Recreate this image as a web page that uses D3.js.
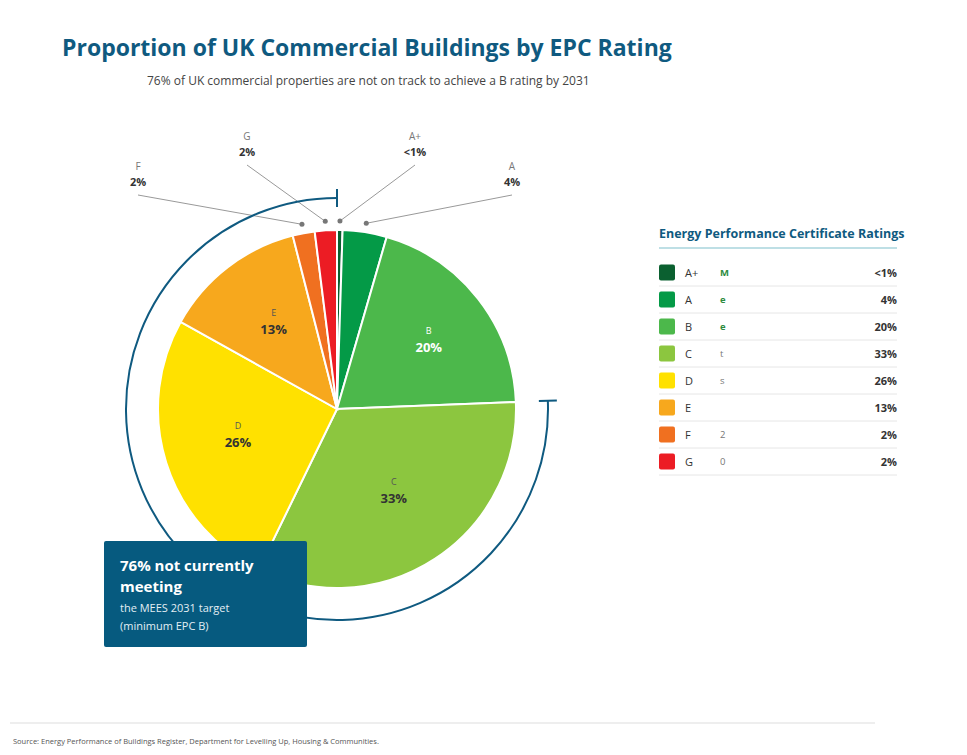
<!DOCTYPE html>
<html><head><meta charset="utf-8">
<script src="https://cdn.jsdelivr.net/npm/d3@7"></script>
<style>body{margin:0;background:#fff;font-family:"Open Sans",sans-serif}</style>
</head><body><svg id="c" width="967" height="755"></svg>
<script>
var ratings = ["A+","A","B","C","D","E","F","G"];
var values = [0.5, 4, 20, 33, 26, 13, 2, 2];
var labels = ["<1%","4%","20%","33%","26%","13%","2%","2%"];
var colors = ["#0b6030","#049a47","#4cb84b","#8cc63f","#ffe100","#f7a81d","#f07020","#ec1c24"];
var status = ["Meets 2031 target","Meets 2031 target","Meets 2031 target","Below MEES target","Below MEES target","Below MEES target","Below MEES target","Below MEES target"];

var svg = d3.select("#c");
var navy = "#0f5a80";
svg.append("text").attr("x",62).attr("y",56).attr("font-size",23).attr("font-weight",700).attr("fill",navy)
  .text("Proportion of UK Commercial Buildings by EPC Rating");
svg.append("text").attr("x",147).attr("y",85).attr("font-size",12).attr("fill","#444")
  .text("76% of UK commercial properties are not on track to achieve a B rating by 2031");

var cx = 337, cy = 409, R = 179;
var g = svg.append("g").attr("transform","translate("+cx+","+cy+")");
var pie = d3.pie().sort(null).value(function(d){return d;});
var arcs = pie(values);
var arc = d3.arc().innerRadius(0).outerRadius(R);
g.selectAll("path.s").data(arcs).enter().append("path").attr("class","s")
  .attr("d",arc).attr("fill",function(d,i){return colors[i];})
  .attr("stroke","#fff").attr("stroke-width",2);

// inside labels for big slices
var inner = d3.arc().innerRadius(R*0.58).outerRadius(R*0.58);
arcs.forEach(function(d,i){
  if (values[i] < 10) return;
  var p = inner.centroid(d);
  if (i==2) p=[p[0]+10,p[1]];
  var col = "#333";
  g.append("text").attr("x",p[0]).attr("y",p[1]-11).attr("text-anchor","middle").attr("font-size",9)
    .attr("fill",i==2?"#fff":"#555").text(ratings[i]);
  g.append("text").attr("x",p[0]).attr("y",p[1]+7).attr("text-anchor","middle").attr("font-size",13).attr("font-weight",700)
    .attr("fill",i==2?"#fff":col).text(labels[i]);
});

// callouts
var callPos = {0:[415,157],1:[512,187],6:[138,187],7:[247,157]};
var dotArc = d3.arc().innerRadius(R+9).outerRadius(R+9);
[6,7,0,1].forEach(function(i){
  var p = dotArc.centroid(arcs[i]);
  var lp = callPos[i];
  var ex = lp[0]-cx, ey = lp[1]+8-cy;
  g.append("line").attr("x1",p[0]).attr("y1",p[1]).attr("x2",ex).attr("y2",ey).attr("stroke","#999").attr("stroke-width",1);
  g.append("circle").attr("cx",p[0]).attr("cy",p[1]).attr("r",2.5).attr("fill","#777");
  svg.append("text").attr("x",lp[0]).attr("y",lp[1]-17).attr("text-anchor","middle").attr("font-size",10).attr("fill","#777").text(ratings[i]);
  svg.append("text").attr("x",lp[0]).attr("y",lp[1]-1).attr("text-anchor","middle").attr("font-size",11).attr("font-weight",700).attr("fill","#333").text(labels[i]);
});

// bracket arc for non-compliant share
var Rb = 211;
var a0 = arcs[3].startAngle, a1 = 2*Math.PI;
g.append("path").attr("d",d3.arc().innerRadius(Rb).outerRadius(Rb).startAngle(a0).endAngle(a1)())
  .attr("fill","none").attr("stroke",navy).attr("stroke-width",2);
[a0,a1].forEach(function(a){
  var t = 9;
  var x = Math.sin(a), y = -Math.cos(a);
  g.append("line").attr("x1",x*(Rb-t)).attr("y1",y*(Rb-t)).attr("x2",x*(Rb+t)).attr("y2",y*(Rb+t))
    .attr("stroke",navy).attr("stroke-width",2);
});

// callout box
svg.append("rect").attr("x",104).attr("y",541).attr("width",203).attr("height",106).attr("rx",2).attr("fill","#065a7f");
svg.append("text").attr("x",120).attr("y",571).attr("font-size",15).attr("font-weight",700).attr("fill","#fff").text("76% not currently");
svg.append("text").attr("x",120).attr("y",592).attr("font-size",15).attr("font-weight",700).attr("fill","#fff").text("meeting");
svg.append("text").attr("x",120).attr("y",612).attr("font-size",11).attr("fill","#e3eef4").text("the MEES 2031 target");
svg.append("text").attr("x",120).attr("y",630).attr("font-size",11).attr("fill","#e3eef4").text("(minimum EPC B)");

// legend
var lx = 659, lw = 238;
svg.append("text").attr("x",lx).attr("y",238).attr("font-size",12.5).attr("font-weight",700).attr("fill",navy).text("Energy Performance Certificate Ratings");
svg.append("line").attr("x1",lx).attr("x2",lx+lw).attr("y1",248).attr("y2",248).attr("stroke","#a8d4dc").attr("stroke-width",1.5);
var rowY = d3.scaleBand().domain(ratings).range([259,475]);
ratings.forEach(function(r,i){
  var y = rowY(r), m = y + rowY.bandwidth()/2;
  svg.append("rect").attr("x",lx).attr("y",m-8).attr("width",16).attr("height",16).attr("rx",2).attr("fill",colors[i]);
  svg.append("text").attr("x",lx+26).attr("y",m+4).attr("font-size",11).attr("fill","#333").text(r);
  svg.append("text").attr("x",lx+61).attr("y",m+3).attr("font-size",9.5)
    .attr("font-weight",i<3?700:400).attr("fill",i<3?"#2e8b3e":"#777").text(status[i]);
  svg.append("text").attr("x",lx+lw).attr("y",m+4).attr("text-anchor","end").attr("font-size",11).attr("font-weight",700).attr("fill","#333").text(labels[i]);
  svg.append("line").attr("x1",lx).attr("x2",lx+lw).attr("y1",y+rowY.bandwidth()).attr("y2",y+rowY.bandwidth()).attr("stroke","#e6e6e6");
});

svg.append("line").attr("x1",10).attr("x2",875).attr("y1",723).attr("y2",723).attr("stroke","#ddd");
svg.append("text").attr("x",13).attr("y",744).attr("font-size",7.5).attr("fill","#555")
  .text("Source: Energy Performance of Buildings Register, Department for Levelling Up, Housing & Communities.");
</script></body></html>
